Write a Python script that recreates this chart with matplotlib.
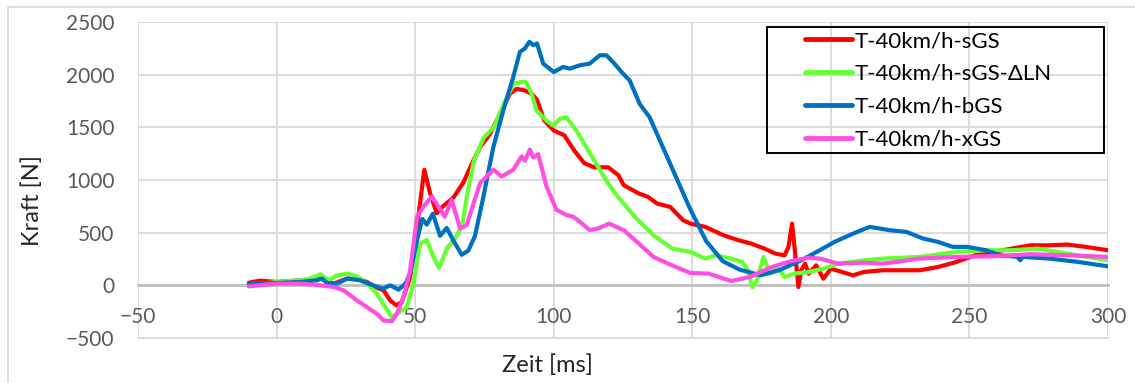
import matplotlib.pyplot as plt
from matplotlib.patches import Rectangle

plt.rcParams['font.family'] = ['Lato', 'DejaVu Sans']

# Messwerte (Zeit in ms, Kraft in N)
t_sgs = [-10, -6, 0, 8.6, 15.8, 20.6, 25.5, 29, 32.6, 35.6, 38.6, 41, 43.2, 45.2, 48.2, 50.7,
         53.3, 55.4, 57.8, 60.2, 63.8, 67.4, 70.4, 73.4, 77, 80.6, 84.2, 86.6, 89.6, 92,
         94, 96.5, 100, 103.8, 107.4, 111, 114.6, 119.7, 123.3, 125.3, 130.7, 134, 137.3,
         142, 146.7, 149.3, 154.7, 161.3, 166.7, 171.3, 176, 180, 183.3, 184.7, 186, 187,
         188.3, 189.3, 190.7, 192, 194.7, 197.3, 200, 204, 208, 212, 218.7, 225.3, 232,
         238.7, 245.3, 252, 258.7, 265.3, 272, 278.7, 285.3, 292, 300]
f_sgs = [25, 45, 32, 48, 64, 16, 64, 64, 32, -16, -48, -143, -190, -159, 80, 556,
         1097, 874, 684, 754, 833, 976, 1151, 1310, 1437, 1628, 1819, 1866, 1850, 1819,
         1760, 1570, 1470, 1425, 1280, 1160, 1120, 1120, 1046, 950, 872, 840, 776,
         745, 618, 586, 555, 475, 428, 396, 349, 301, 285, 365, 586, 333,
         -16, 143, 206, 111, 190, 63, 158, 127, 95, 127, 143, 143, 143,
         174, 222, 285, 317, 349, 380, 380, 387, 365, 333]

t_sgs_ln = [-10, 0, 8.6, 12.2, 15.8, 18.8, 21.8, 25.5, 29, 32.6, 36.2, 39.2, 41.6, 43.4, 47,
            49.4, 51.8, 54.2, 56.6, 58.6, 61.6, 64.6, 67, 68.8, 71.2, 74.8, 78.4, 82, 85.6,
            88, 90, 92, 93.8, 97.4, 99.8, 102.2, 104.6, 108.2, 111.8, 115.4, 119, 122.7,
            129.3, 136, 142.7, 149.3, 154.7, 158.7, 164, 168, 170, 171.7, 173.3, 175.7,
            178, 180.7, 183.3, 186.7, 192, 197.3, 202.7, 212, 218.7, 232, 245.3, 256,
            265.3, 274.7, 285.3, 300]
f_sgs_ln = [0, 32, 48, 64, 105, 48, 95, 111, 86, 16, -80, -207, -302, -270, -207,
            16, 398, 430, 270, 165, 356, 451, 578, 865, 1183, 1405, 1500, 1723, 1914,
            1930, 1930, 1819, 1660, 1564, 1517, 1580, 1596, 1469, 1310, 1151, 992, 855,
            650, 475, 349, 317, 254, 285, 254, 222, 143, -16, 48, 270,
            111, 174, 79, 111, 127, 158, 206, 238, 254, 270, 317, 333,
            333, 349, 301, 238]

t_bgs = [-10, 0, 8.6, 14.6, 16.4, 18.2, 21.8, 25.5, 30, 34.8, 38.4, 41, 44, 46.5, 48.2,
         50.7, 52.6, 54.2, 56.4, 59, 61.4, 63.8, 66.8, 69.2, 71.6, 74.6, 78.2, 81.8, 85.4,
         87.8, 89.6, 91.2, 92.6, 94, 96.2, 100, 103.4, 105.8, 109.4, 113, 116.6, 119,
         121.4, 125, 127.4, 131, 134.6, 139.4, 144.2, 149, 155, 161, 167, 174.7, 181.3,
         189.3, 196, 201.3, 208, 214, 221.3, 227.3, 233.3, 238.7, 244, 249.3, 256, 261.3,
         267.3, 268.3, 269.3, 278.7, 289.3, 300]
f_bgs = [16, 22, 32, 48, 64, 22, 16, 64, 48, 0, -32, 0, -41, 16, 111,
         430, 630, 576, 680, 470, 545, 425, 290, 330, 470, 838, 1310, 1660, 1978,
         2216, 2248, 2312, 2280, 2296, 2105, 2025, 2073, 2057, 2089, 2105, 2184, 2184,
         2120, 2010, 1946, 1723, 1596, 1310, 1024, 738, 420, 229, 150, 95, 143,
         238, 333, 412, 491, 555, 523, 507, 444, 412, 365, 365, 333, 285,
         270, 238, 270, 254, 222, 180]

t_xgs = [-10, 0, 8.6, 15.8, 20.6, 24.2, 29, 32.6, 36.2, 38.6, 41.6, 43.4, 45.8, 48.2,
         50.7, 53, 56, 58.4, 60.7, 63.2, 66.2, 68.6, 73.4, 78.2, 81.2, 85.4, 88.4, 89.6,
         91.4, 92.6, 94.4, 97.4, 101, 104.6, 107, 109.4, 113, 116, 120, 125.3, 130.7,
         136, 142.7, 149.3, 156, 164, 170.7, 178.7, 185.3, 192, 196, 202.7, 212, 218.7,
         225.3, 232, 245.3, 258.7, 272, 285.3, 300]
f_xgs = [-10, 16, 16, 0, -16, -48, -143, -207, -270, -334, -340, -270, -111, 143,
         652, 747, 843, 747, 652, 811, 540, 572, 970, 1097, 1033, 1097, 1224, 1183,
         1288, 1215, 1246, 938, 716, 668, 652, 604, 525, 540, 586, 523, 396,
         270, 190, 117, 111, 41, 79, 174, 228, 263, 254, 206, 215, 206,
         228, 254, 270, 276, 295, 285, 270]

series_labels = ['T-40km/h-sGS', 'T-40km/h-sGS-\u0394LN', 'T-40km/h-bGS', 'T-40km/h-xGS']
series_colors = ['#FF0000', '#66FF33', '#0070C0', '#FF4FE3']

x_ticks = [-50, 0, 50, 100, 150, 200, 250, 300]
y_ticks = [-500, 0, 500, 1000, 1500, 2000, 2500]

W, H = 1135, 383
fig = plt.figure(figsize=(W / 100, H / 100), dpi=100)

# Rahmen um das Diagramm (rechts/unten ausserhalb des Bildes)
fig.patches.append(Rectangle((8 / W, -0.1), 1.2, 1 - 7 / H + 0.1, transform=fig.transFigure,
                             fill=False, edgecolor='#D9D9D9', linewidth=1.2))
ax = fig.add_axes([138 / W, 1 - 338 / H, (1108 - 138) / W, (338 - 22) / H])

for t, f, lab, col in zip([t_sgs, t_sgs_ln, t_bgs, t_xgs], [f_sgs, f_sgs_ln, f_bgs, f_xgs],
                          series_labels, series_colors):
    ax.plot(t, f, color=col, linewidth=3, label=lab, solid_joinstyle='round',
            solid_capstyle='round', zorder=3)

ax.set_xlim(-50, 300)
ax.set_ylim(-500, 2500)
ax.set_xticks(x_ticks)
ax.set_yticks(y_ticks)
ax.grid(True, color='#D9D9D9', linewidth=1.3, zorder=0)
ax.set_axisbelow(True)

for side in ['top', 'right', 'left']:
    ax.spines[side].set_visible(False)
ax.spines['bottom'].set_position(('data', 0))
ax.spines['bottom'].set_color('#BFBFBF')
ax.spines['bottom'].set_linewidth(2)
ax.spines['bottom'].set_zorder(2)
ax.axhline(-500, color='#D9D9D9', linewidth=1.3, zorder=0, clip_on=False)

ax.tick_params(axis='both', length=0, labelsize=15, labelcolor='#595959')
ax.tick_params(axis='y', pad=17)
ax.tick_params(axis='x', pad=15.5)

fig.text(32 / W, 1 - 201 / H, 'Kraft [N]', rotation=90, ha='center', va='center',
         fontsize=17, color='#262626')
fig.text(547 / W, 1 - 365 / H, 'Zeit [ms]', ha='center', va='center',
         fontsize=17, color='#262626')

# Legende mit eigenem Rahmen
fig.patches.append(Rectangle((767 / W, 1 - 153 / H), (1104 - 767) / W, (153 - 27) / H,
                             transform=fig.transFigure, fill=False, edgecolor='black',
                             linewidth=1.4, zorder=5))
leg = ax.legend(loc='upper left', bbox_to_anchor=(805 / W, 1 - 31 / H),
                bbox_transform=fig.transFigure, fontsize=16, frameon=False,
                handlelength=2.1, handletextpad=0.15, labelspacing=0.58,
                borderpad=0, borderaxespad=0)
for line in leg.get_lines():
    line.set_linewidth(3.5)
for txt in leg.get_texts():
    txt.set_color('black')

fig.savefig('out.png', dpi=100)
